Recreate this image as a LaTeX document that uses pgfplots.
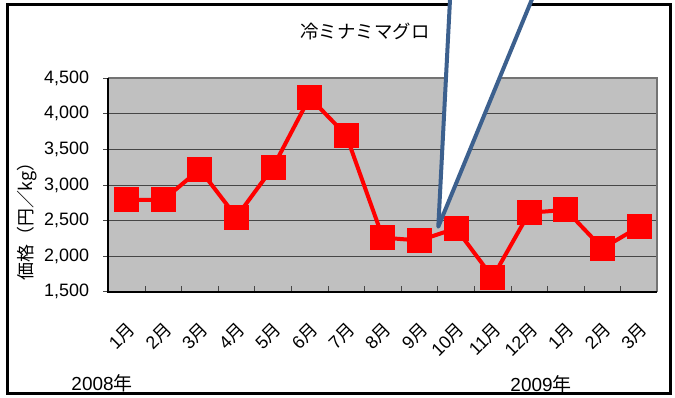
\documentclass[border=0pt]{standalone}
\usepackage{fontspec}
\setmainfont{Liberation Sans}
\newfontfamily\jp{Noto Sans CJK JP}
\usepackage{pgfplots}
\pgfplotsset{compat=1.18}
\definecolor{plotbg}{RGB}{192,192,192}
\definecolor{calloutc}{RGB}{60,96,142}
\definecolor{gridc}{RGB}{70,70,70}
\newcommand{\M}[1]{#1{\jp 月}}
\begin{document}
\begin{tikzpicture}
\useasboundingbox (0,0) rectangle (675bp,398bp);
\clip (0,0) rectangle (675bp,398bp);
\fill[white] (0,0) rectangle (675bp,398bp);
\draw[black, line width=3bp] (7bp,4bp) rectangle (670bp,393bp);
\begin{axis}[
  at={(108.3bp,106.3bp)}, anchor=south west,
  scale only axis, width=549bp, height=213.4bp,
  xmin=-0.5, xmax=14.5, ymin=1500, ymax=4500,
  ytick={1500,2000,...,4500},
  xtick={0,...,14},
  xticklabels={\M{1},\M{2},\M{3},\M{4},\M{5},\M{6},\M{7},\M{8},\M{9},\M{10},\M{11},\M{12},\M{1},\M{2},\M{3}},
  minor xtick={0.5,1.5,...,13.5},
  xtick pos=bottom, ytick pos=left,
  xtick align=inside, ytick align=outside,
  major x tick style={draw=none},
  major tick length=5bp, minor tick length=6bp,
  minor x tick style={gridc, line width=0.8bp},
  ytick style={gridc, line width=0.8bp},
  ymajorgrids, major grid style={gridc, line width=0.9bp},
  axis background/.style={fill=plotbg},
  axis line style={draw=none},
  clip=false,
  tick label style={font=\fontsize{18}{20}\selectfont},
  xticklabel style={xshift=6bp, yshift=-34bp, rotate=45, anchor=east, inner sep=1bp},
  yticklabel style={anchor=east, xshift=-13bp, inner sep=1bp},
  /pgf/number format/.cd, 1000 sep={,}, assume math mode=true,
]
\draw[gray!90!black, line width=2bp] (rel axis cs:0,1) -- (rel axis cs:1,1) -- (rel axis cs:1,0);
\draw[black, line width=2bp] (rel axis cs:0,1) -- (rel axis cs:0,0) -- (rel axis cs:1,0);
\addplot[red, line width=4bp, mark=square*, mark size=10.5bp, mark options={draw=none, fill=red}]
  coordinates {(0,2790) (1,2790) (2,3220) (3,2550) (4,3250) (5,4230) (6,3700) (7,2260) (8,2220) (9,2390) (10,1700) (11,2610) (12,2650) (13,2110) (14,2410)};
\end{axis}
\draw[calloutc, line width=4bp, fill=white, line join=round] (438.3bp,171.3bp) -- (536.6bp,410bp) -- (450.6bp,410bp) -- cycle;
\node[font=\jp\fontsize{18.5}{20}\selectfont] at (365bp,366.5bp) {冷ミナミマグロ};
\node[rotate=90, font=\jp\fontsize{18}{20}\selectfont] at (27bp,181bp) {価格（円／kg）};
\node[font=\fontsize{19}{21}\selectfont] at (102bp,15bp) {2008{\jp 年}};
\node[font=\fontsize{19}{21}\selectfont] at (541bp,14bp) {2009{\jp 年}};
\end{tikzpicture}
\end{document}
